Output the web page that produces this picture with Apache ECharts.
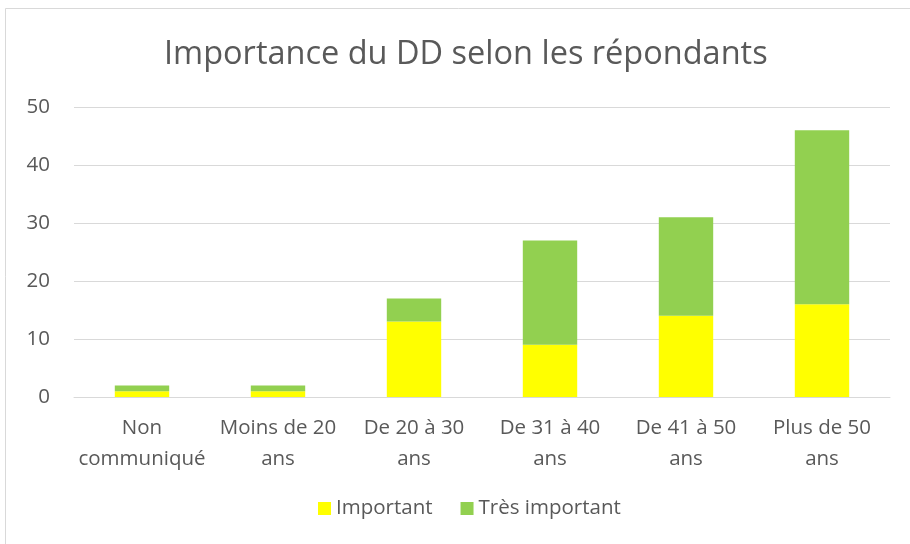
<!DOCTYPE html>
<html><head><meta charset="utf-8">
<script src="https://cdn.jsdelivr.net/npm/echarts@6/dist/echarts.min.js"></script>
<style>html,body{margin:0;padding:0;background:#fff}#c{width:910px;height:544px}</style>
</head><body><div id="c"></div>
<script>
const categories = ['Non\ncommuniqué', 'Moins de 20\nans', 'De 20 à 30\nans', 'De 31 à 40\nans', 'De 41 à 50\nans', 'Plus de 50\nans'];
const important = [1, 1, 13, 9, 14, 16];
const tresImportant = [1, 1, 4, 18, 17, 30];
const yTicks = {min: 0, max: 50, interval: 10};
const font = '"Open Sans", sans-serif';
const chart = echarts.init(document.getElementById('c'));
chart.setOption({
  animation: false,
  backgroundColor: '#fff',
  graphic: [{type: 'rect', shape: {x: 5.5, y: 8.5, width: 920, height: 560}, style: {fill: 'none', stroke: '#d9d9d9', lineWidth: 1}, silent: true}],
  title: {text: 'Importance du DD selon les répondants', left: 159, top: 33,
    textStyle: {fontFamily: font, fontSize: 32.5, fontWeight: 'normal', color: '#595959'}},
  legend: {bottom: 20, left: 313, itemWidth: 13, itemHeight: 13, itemGap: 28,
    icon: 'rect', textStyle: {fontFamily: font, fontSize: 20.5, color: '#595959'},
    data: ['Important', 'Très important']},
  grid: {left: 74, right: 20, top: 107, bottom: 147},
  xAxis: {type: 'category', data: categories,
    axisLine: {lineStyle: {color: '#d9d9d9', width: 1}}, axisTick: {show: false},
    axisLabel: {fontFamily: font, fontSize: 20.5, color: '#595959', lineHeight: 31, margin: 16, interval: 0}},
  yAxis: {type: 'value', min: yTicks.min, max: yTicks.max, interval: yTicks.interval,
    axisLine: {show: false}, axisTick: {show: false},
    splitLine: {lineStyle: {color: '#d9d9d9', width: 1}},
    axisLabel: {fontFamily: font, fontSize: 20.5, color: '#595959', margin: 24}},
  series: [
    {name: 'Important', type: 'bar', stack: 's', data: important, barWidth: '40%',
      itemStyle: {color: '#FFFF00'}},
    {name: 'Très important', type: 'bar', stack: 's', data: tresImportant, barWidth: '40%',
      itemStyle: {color: '#92D050'}}
  ]
});
</script></body></html>
